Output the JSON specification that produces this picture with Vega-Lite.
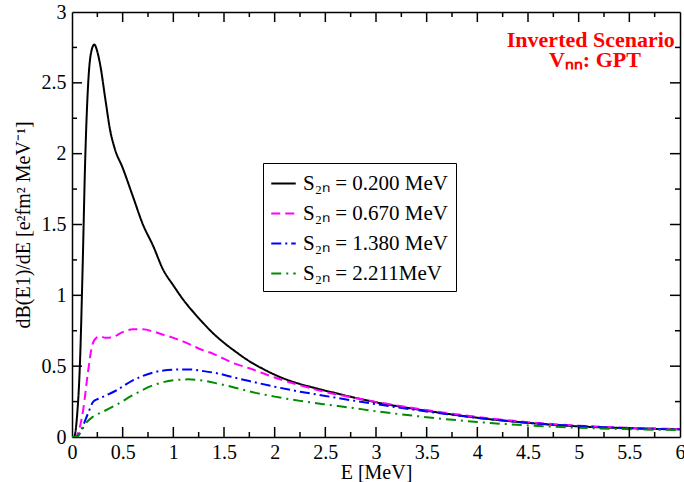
{
  "$schema": "https://vega.github.io/schema/vega-lite/v6.json",
  "width": 608,
  "height": 425,
  "autosize": "none",
  "padding": {"left": 72, "top": 12, "right": 4, "bottom": 45},
  "config": {
    "font": "Liberation Serif",
    "view": {"stroke": null},
    "axis": {
      "labelFont": "Liberation Serif", "labelFontSize": 20, "labelColor": "black",
      "titleFont": "Liberation Serif", "titleFontSize": 20, "titleFontWeight": "normal", "titleColor": "black",
      "domainColor": "black", "domainWidth": 1.5,
      "grid": false, "labelFlush": false, "labelOverlap": false
    }
  },
  "datasets": {
    "curves": [
      {"E": 0, "v": 0, "s": "S₂ₙ = 0.200 MeV"},
      {"E": 0.02, "v": 0, "s": "S₂ₙ = 0.200 MeV"},
      {"E": 0.05, "v": 0.15, "s": "S₂ₙ = 0.200 MeV"},
      {"E": 0.08, "v": 0.55, "s": "S₂ₙ = 0.200 MeV"},
      {"E": 0.105, "v": 1.2, "s": "S₂ₙ = 0.200 MeV"},
      {"E": 0.13, "v": 1.95, "s": "S₂ₙ = 0.200 MeV"},
      {"E": 0.16, "v": 2.5, "s": "S₂ₙ = 0.200 MeV"},
      {"E": 0.19, "v": 2.72, "s": "S₂ₙ = 0.200 MeV"},
      {"E": 0.22, "v": 2.77, "s": "S₂ₙ = 0.200 MeV"},
      {"E": 0.25, "v": 2.72, "s": "S₂ₙ = 0.200 MeV"},
      {"E": 0.28, "v": 2.62, "s": "S₂ₙ = 0.200 MeV"},
      {"E": 0.33, "v": 2.38, "s": "S₂ₙ = 0.200 MeV"},
      {"E": 0.375, "v": 2.17, "s": "S₂ₙ = 0.200 MeV"},
      {"E": 0.42, "v": 2.04, "s": "S₂ₙ = 0.200 MeV"},
      {"E": 0.5, "v": 1.9, "s": "S₂ₙ = 0.200 MeV"},
      {"E": 0.6, "v": 1.7, "s": "S₂ₙ = 0.200 MeV"},
      {"E": 0.7, "v": 1.5, "s": "S₂ₙ = 0.200 MeV"},
      {"E": 0.8, "v": 1.35, "s": "S₂ₙ = 0.200 MeV"},
      {"E": 0.9, "v": 1.18, "s": "S₂ₙ = 0.200 MeV"},
      {"E": 1.0, "v": 1.07, "s": "S₂ₙ = 0.200 MeV"},
      {"E": 1.1, "v": 0.967, "s": "S₂ₙ = 0.200 MeV"},
      {"E": 1.2, "v": 0.88, "s": "S₂ₙ = 0.200 MeV"},
      {"E": 1.3, "v": 0.8, "s": "S₂ₙ = 0.200 MeV"},
      {"E": 1.4, "v": 0.727, "s": "S₂ₙ = 0.200 MeV"},
      {"E": 1.5, "v": 0.665, "s": "S₂ₙ = 0.200 MeV"},
      {"E": 1.6, "v": 0.61, "s": "S₂ₙ = 0.200 MeV"},
      {"E": 1.75, "v": 0.535, "s": "S₂ₙ = 0.200 MeV"},
      {"E": 1.9, "v": 0.475, "s": "S₂ₙ = 0.200 MeV"},
      {"E": 2.0, "v": 0.44, "s": "S₂ₙ = 0.200 MeV"},
      {"E": 2.1, "v": 0.41, "s": "S₂ₙ = 0.200 MeV"},
      {"E": 2.25, "v": 0.374, "s": "S₂ₙ = 0.200 MeV"},
      {"E": 2.4, "v": 0.345, "s": "S₂ₙ = 0.200 MeV"},
      {"E": 2.6, "v": 0.31, "s": "S₂ₙ = 0.200 MeV"},
      {"E": 2.75, "v": 0.284, "s": "S₂ₙ = 0.200 MeV"},
      {"E": 3.0, "v": 0.245, "s": "S₂ₙ = 0.200 MeV"},
      {"E": 3.5, "v": 0.185, "s": "S₂ₙ = 0.200 MeV"},
      {"E": 4.0, "v": 0.136, "s": "S₂ₙ = 0.200 MeV"},
      {"E": 4.5, "v": 0.1, "s": "S₂ₙ = 0.200 MeV"},
      {"E": 5.0, "v": 0.075, "s": "S₂ₙ = 0.200 MeV"},
      {"E": 5.5, "v": 0.062, "s": "S₂ₙ = 0.200 MeV"},
      {"E": 6.0, "v": 0.054, "s": "S₂ₙ = 0.200 MeV"},

      {"E": 0, "v": 0, "s": "S₂ₙ = 0.670 MeV"},
      {"E": 0.03, "v": 0, "s": "S₂ₙ = 0.670 MeV"},
      {"E": 0.07, "v": 0.05, "s": "S₂ₙ = 0.670 MeV"},
      {"E": 0.11, "v": 0.19, "s": "S₂ₙ = 0.670 MeV"},
      {"E": 0.16, "v": 0.47, "s": "S₂ₙ = 0.670 MeV"},
      {"E": 0.2, "v": 0.65, "s": "S₂ₙ = 0.670 MeV"},
      {"E": 0.24, "v": 0.7, "s": "S₂ₙ = 0.670 MeV"},
      {"E": 0.28, "v": 0.71, "s": "S₂ₙ = 0.670 MeV"},
      {"E": 0.33, "v": 0.7, "s": "S₂ₙ = 0.670 MeV"},
      {"E": 0.4, "v": 0.705, "s": "S₂ₙ = 0.670 MeV"},
      {"E": 0.5, "v": 0.74, "s": "S₂ₙ = 0.670 MeV"},
      {"E": 0.6, "v": 0.76, "s": "S₂ₙ = 0.670 MeV"},
      {"E": 0.7, "v": 0.76, "s": "S₂ₙ = 0.670 MeV"},
      {"E": 0.8, "v": 0.745, "s": "S₂ₙ = 0.670 MeV"},
      {"E": 0.9, "v": 0.722, "s": "S₂ₙ = 0.670 MeV"},
      {"E": 1.0, "v": 0.7, "s": "S₂ₙ = 0.670 MeV"},
      {"E": 1.1, "v": 0.673, "s": "S₂ₙ = 0.670 MeV"},
      {"E": 1.25, "v": 0.625, "s": "S₂ₙ = 0.670 MeV"},
      {"E": 1.4, "v": 0.585, "s": "S₂ₙ = 0.670 MeV"},
      {"E": 1.6, "v": 0.52, "s": "S₂ₙ = 0.670 MeV"},
      {"E": 1.75, "v": 0.485, "s": "S₂ₙ = 0.670 MeV"},
      {"E": 2.0, "v": 0.42, "s": "S₂ₙ = 0.670 MeV"},
      {"E": 2.25, "v": 0.365, "s": "S₂ₙ = 0.670 MeV"},
      {"E": 2.5, "v": 0.318, "s": "S₂ₙ = 0.670 MeV"},
      {"E": 2.75, "v": 0.282, "s": "S₂ₙ = 0.670 MeV"},
      {"E": 3.0, "v": 0.248, "s": "S₂ₙ = 0.670 MeV"},
      {"E": 3.5, "v": 0.19, "s": "S₂ₙ = 0.670 MeV"},
      {"E": 4.0, "v": 0.142, "s": "S₂ₙ = 0.670 MeV"},
      {"E": 4.5, "v": 0.105, "s": "S₂ₙ = 0.670 MeV"},
      {"E": 5.0, "v": 0.08, "s": "S₂ₙ = 0.670 MeV"},
      {"E": 5.5, "v": 0.065, "s": "S₂ₙ = 0.670 MeV"},
      {"E": 6.0, "v": 0.056, "s": "S₂ₙ = 0.670 MeV"},

      {"E": 0, "v": 0, "s": "S₂ₙ = 1.380 MeV"},
      {"E": 0.04, "v": 0, "s": "S₂ₙ = 1.380 MeV"},
      {"E": 0.08, "v": 0.03, "s": "S₂ₙ = 1.380 MeV"},
      {"E": 0.11, "v": 0.08, "s": "S₂ₙ = 1.380 MeV"},
      {"E": 0.16, "v": 0.17, "s": "S₂ₙ = 1.380 MeV"},
      {"E": 0.21, "v": 0.25, "s": "S₂ₙ = 1.380 MeV"},
      {"E": 0.26, "v": 0.27, "s": "S₂ₙ = 1.380 MeV"},
      {"E": 0.31, "v": 0.285, "s": "S₂ₙ = 1.380 MeV"},
      {"E": 0.44, "v": 0.33, "s": "S₂ₙ = 1.380 MeV"},
      {"E": 0.6, "v": 0.4, "s": "S₂ₙ = 1.380 MeV"},
      {"E": 0.8, "v": 0.455, "s": "S₂ₙ = 1.380 MeV"},
      {"E": 1.0, "v": 0.475, "s": "S₂ₙ = 1.380 MeV"},
      {"E": 1.15, "v": 0.477, "s": "S₂ₙ = 1.380 MeV"},
      {"E": 1.3, "v": 0.465, "s": "S₂ₙ = 1.380 MeV"},
      {"E": 1.45, "v": 0.447, "s": "S₂ₙ = 1.380 MeV"},
      {"E": 1.6, "v": 0.42, "s": "S₂ₙ = 1.380 MeV"},
      {"E": 1.75, "v": 0.395, "s": "S₂ₙ = 1.380 MeV"},
      {"E": 2.0, "v": 0.355, "s": "S₂ₙ = 1.380 MeV"},
      {"E": 2.25, "v": 0.32, "s": "S₂ₙ = 1.380 MeV"},
      {"E": 2.5, "v": 0.29, "s": "S₂ₙ = 1.380 MeV"},
      {"E": 2.75, "v": 0.26, "s": "S₂ₙ = 1.380 MeV"},
      {"E": 3.0, "v": 0.232, "s": "S₂ₙ = 1.380 MeV"},
      {"E": 3.5, "v": 0.18, "s": "S₂ₙ = 1.380 MeV"},
      {"E": 4.0, "v": 0.135, "s": "S₂ₙ = 1.380 MeV"},
      {"E": 4.5, "v": 0.1, "s": "S₂ₙ = 1.380 MeV"},
      {"E": 5.0, "v": 0.077, "s": "S₂ₙ = 1.380 MeV"},
      {"E": 5.5, "v": 0.062, "s": "S₂ₙ = 1.380 MeV"},
      {"E": 6.0, "v": 0.054, "s": "S₂ₙ = 1.380 MeV"},

      {"E": 0, "v": 0, "s": "S₂ₙ = 2.211MeV"},
      {"E": 0.05, "v": 0, "s": "S₂ₙ = 2.211MeV"},
      {"E": 0.09, "v": 0.04, "s": "S₂ₙ = 2.211MeV"},
      {"E": 0.13, "v": 0.09, "s": "S₂ₙ = 2.211MeV"},
      {"E": 0.21, "v": 0.145, "s": "S₂ₙ = 2.211MeV"},
      {"E": 0.31, "v": 0.18, "s": "S₂ₙ = 2.211MeV"},
      {"E": 0.44, "v": 0.228, "s": "S₂ₙ = 2.211MeV"},
      {"E": 0.6, "v": 0.295, "s": "S₂ₙ = 2.211MeV"},
      {"E": 0.8, "v": 0.365, "s": "S₂ₙ = 2.211MeV"},
      {"E": 1.0, "v": 0.4, "s": "S₂ₙ = 2.211MeV"},
      {"E": 1.15, "v": 0.407, "s": "S₂ₙ = 2.211MeV"},
      {"E": 1.3, "v": 0.397, "s": "S₂ₙ = 2.211MeV"},
      {"E": 1.45, "v": 0.375, "s": "S₂ₙ = 2.211MeV"},
      {"E": 1.6, "v": 0.35, "s": "S₂ₙ = 2.211MeV"},
      {"E": 1.75, "v": 0.322, "s": "S₂ₙ = 2.211MeV"},
      {"E": 2.0, "v": 0.285, "s": "S₂ₙ = 2.211MeV"},
      {"E": 2.25, "v": 0.255, "s": "S₂ₙ = 2.211MeV"},
      {"E": 2.5, "v": 0.23, "s": "S₂ₙ = 2.211MeV"},
      {"E": 2.75, "v": 0.207, "s": "S₂ₙ = 2.211MeV"},
      {"E": 3.0, "v": 0.182, "s": "S₂ₙ = 2.211MeV"},
      {"E": 3.5, "v": 0.14, "s": "S₂ₙ = 2.211MeV"},
      {"E": 4.0, "v": 0.106, "s": "S₂ₙ = 2.211MeV"},
      {"E": 4.5, "v": 0.082, "s": "S₂ₙ = 2.211MeV"},
      {"E": 5.0, "v": 0.065, "s": "S₂ₙ = 2.211MeV"},
      {"E": 5.5, "v": 0.055, "s": "S₂ₙ = 2.211MeV"},
      {"E": 6.0, "v": 0.049, "s": "S₂ₙ = 2.211MeV"}
    ],
    "notes": [
      {"E": 5.12, "v": 2.8, "label": "Inverted Scenario"},
      {"E": 5.16, "v": 2.66, "label": "Vₙₙ: GPT"}
    ],
    "xmaj": [{"t": 0.5}, {"t": 1}, {"t": 1.5}, {"t": 2}, {"t": 2.5}, {"t": 3}, {"t": 3.5}, {"t": 4}, {"t": 4.5}, {"t": 5}, {"t": 5.5}],
    "xmin": [{"t": 0.25}, {"t": 0.75}, {"t": 1.25}, {"t": 1.75}, {"t": 2.25}, {"t": 2.75}, {"t": 3.25}, {"t": 3.75}, {"t": 4.25}, {"t": 4.75}, {"t": 5.25}, {"t": 5.75}],
    "ymaj": [{"t": 0.5}, {"t": 1}, {"t": 1.5}, {"t": 2}, {"t": 2.5}],
    "ymin": [{"t": 0.25}, {"t": 0.75}, {"t": 1.25}, {"t": 1.75}, {"t": 2.25}, {"t": 2.75}]
  },
  "layer": [
    {
      "data": {"name": "curves"},
      "mark": {"type": "line", "strokeWidth": 2, "interpolate": "monotone", "clip": true},
      "encoding": {
        "x": {"field": "E", "type": "quantitative",
              "scale": {"domain": [0, 6], "nice": false, "zero": false},
              "axis": {"orient": "bottom", "values": [0, 0.5, 1, 1.5, 2, 2.5, 3, 3.5, 4, 4.5, 5, 5.5, 6], "format": "~g",
                       "ticks": false, "labelPadding": 5, "title": "E [MeV]", "titlePadding": 0}},
        "y": {"field": "v", "type": "quantitative",
              "scale": {"domain": [0, 3], "nice": false, "zero": false},
              "axis": {"orient": "left", "values": [0, 0.5, 1, 1.5, 2, 2.5, 3], "format": "~g",
                       "ticks": false, "labelPadding": 6, "title": "dB(E1)/dE [e²fm² MeV⁻¹]", "titlePadding": 8}},
        "color": {"field": "s", "type": "nominal",
                  "scale": {"domain": ["S₂ₙ = 0.200 MeV", "S₂ₙ = 0.670 MeV", "S₂ₙ = 1.380 MeV", "S₂ₙ = 2.211MeV"],
                            "range": ["#000000", "#ff00ff", "#0000ff", "#008b00"]},
                  "legend": {"orient": "none", "legendX": 191, "legendY": 151, "title": null,
                             "strokeColor": "black", "fillColor": "white", "padding": 7,
                             "symbolType": "stroke", "symbolSize": 600, "symbolStrokeWidth": 2,
                             "labelFont": "Liberation Serif", "labelFontSize": 21, "labelColor": "black",
                             "labelOffset": 6, "rowPadding": 6, "labelLimit": 300}},
        "strokeDash": {"field": "s", "type": "nominal",
                       "scale": {"domain": ["S₂ₙ = 0.200 MeV", "S₂ₙ = 0.670 MeV", "S₂ₙ = 1.380 MeV", "S₂ₙ = 2.211MeV"],
                                 "range": [[1, 0], [9, 5], [10, 4, 2, 4], [10, 5, 2, 5]]},
                       "legend": null}
      }
    },
    {
      "data": {"name": "notes"},
      "mark": {"type": "point", "opacity": 0},
      "encoding": {
        "x": {"field": "E", "type": "quantitative",
              "axis": {"orient": "top", "values": [0, 3, 6], "ticks": false, "labels": false, "title": null}},
        "y": {"field": "v", "type": "quantitative",
              "axis": {"orient": "right", "values": [0, 1.5, 3], "ticks": false, "labels": false, "title": null}}
      }
    },
    {
      "data": {"name": "xmaj"},
      "mark": {"type": "tick", "orient": "vertical", "color": "black", "opacity": 1, "size": 10, "thickness": 1.5, "yOffset": -5},
      "encoding": {
        "x": {"field": "t", "type": "quantitative", "axis": null},
        "y": {"datum": 0, "type": "quantitative", "axis": null}
      }
    },
    {
      "data": {"name": "xmin"},
      "mark": {"type": "tick", "orient": "vertical", "color": "black", "opacity": 1, "size": 5, "thickness": 1.5, "yOffset": -2.5},
      "encoding": {
        "x": {"field": "t", "type": "quantitative", "axis": null},
        "y": {"datum": 0, "type": "quantitative", "axis": null}
      }
    },
    {
      "data": {"name": "xmaj"},
      "mark": {"type": "tick", "orient": "vertical", "color": "black", "opacity": 1, "size": 10, "thickness": 1.5, "yOffset": 5},
      "encoding": {
        "x": {"field": "t", "type": "quantitative", "axis": null},
        "y": {"datum": 3, "type": "quantitative", "axis": null}
      }
    },
    {
      "data": {"name": "xmin"},
      "mark": {"type": "tick", "orient": "vertical", "color": "black", "opacity": 1, "size": 5, "thickness": 1.5, "yOffset": 2.5},
      "encoding": {
        "x": {"field": "t", "type": "quantitative", "axis": null},
        "y": {"datum": 3, "type": "quantitative", "axis": null}
      }
    },
    {
      "data": {"name": "ymaj"},
      "mark": {"type": "tick", "orient": "horizontal", "color": "black", "opacity": 1, "size": 10, "thickness": 1.5, "xOffset": 5},
      "encoding": {
        "y": {"field": "t", "type": "quantitative", "axis": null},
        "x": {"datum": 0, "type": "quantitative", "axis": null}
      }
    },
    {
      "data": {"name": "ymin"},
      "mark": {"type": "tick", "orient": "horizontal", "color": "black", "opacity": 1, "size": 5, "thickness": 1.5, "xOffset": 2.5},
      "encoding": {
        "y": {"field": "t", "type": "quantitative", "axis": null},
        "x": {"datum": 0, "type": "quantitative", "axis": null}
      }
    },
    {
      "data": {"name": "ymaj"},
      "mark": {"type": "tick", "orient": "horizontal", "color": "black", "opacity": 1, "size": 10, "thickness": 1.5, "xOffset": -5},
      "encoding": {
        "y": {"field": "t", "type": "quantitative", "axis": null},
        "x": {"datum": 6, "type": "quantitative", "axis": null}
      }
    },
    {
      "data": {"name": "ymin"},
      "mark": {"type": "tick", "orient": "horizontal", "color": "black", "opacity": 1, "size": 5, "thickness": 1.5, "xOffset": -2.5},
      "encoding": {
        "y": {"field": "t", "type": "quantitative", "axis": null},
        "x": {"datum": 6, "type": "quantitative", "axis": null}
      }
    },
    {
      "data": {"name": "notes"},
      "mark": {"type": "text", "font": "Liberation Serif", "fontSize": 22, "fontWeight": "bold", "color": "#ff0000", "align": "center", "baseline": "middle"},
      "encoding": {
        "x": {"field": "E", "type": "quantitative", "axis": null},
        "y": {"field": "v", "type": "quantitative", "axis": null},
        "text": {"field": "label"}
      }
    }
  ],
  "resolve": {"axis": {"x": "independent", "y": "independent"}}
}
